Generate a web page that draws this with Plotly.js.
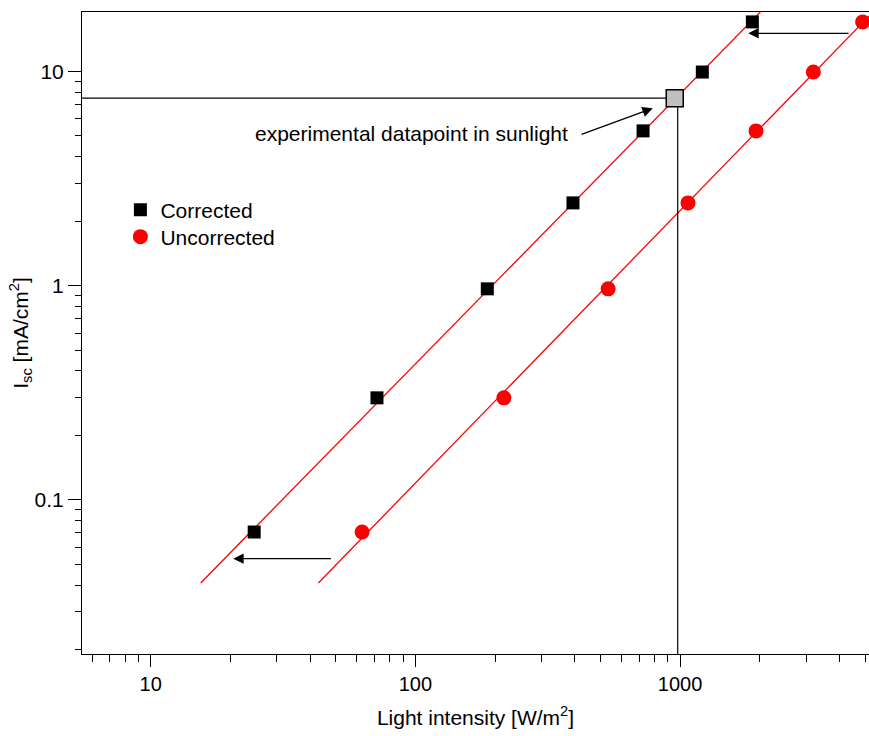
<!DOCTYPE html>
<html>
<head>
<meta charset="utf-8">
<script src="https://cdn.plot.ly/plotly-3.0.1.min.js"></script>
<style>html,body{margin:0;padding:0;background:#fff;}#chart{width:869px;height:736px;}</style>
</head>
<body>
<div id="chart"></div>
<script>
// ---- data ----
const xCorrected   = [24.6, 71.6, 187, 394, 725, 1214, 1876];      // W/m2 (corrected)
const xUncorrected = [62.9, 216, 535, 1072, 1937, 3189, 4898];     // W/m2 (uncorrected)
const iscValues    = [0.0707, 0.299, 0.965, 2.43, 5.27, 9.92, 17.0]; // mA/cm2

const fitCorrectedX   = [15.45, 2011];
const fitCorrectedY   = [0.0409, 18.9];
const fitUncorrectedX = [43.0, 5176];
const fitUncorrectedY = [0.0409, 18.1];

const sunX = 955, sunY = 7.48;      // experimental datapoint in sunlight
const guideX = 980, guideY = 7.5;   // guide lines
const axisXMin = 5.5, axisYMin = 0.019;

const arrowTop    = {fromX: 4390, toX: 1811, y: 15.04};
const arrowBottom = {fromX: 48.6, toX: 20.5, y: 0.0531};
const arrowSun    = {fromX: 419, fromY: 5.04, toX: 789, toY: 6.72};
const labelSun    = {x: 384, y: 5.15, text: 'experimental datapoint in sunlight'};

const xMajor = [10, 100, 1000], xMajorText = ['10', '100', '1000'];
const yMajor = [0.1, 1, 10],    yMajorText = ['0.1', '1', '10'];

function minorTicks(decades, lo, hi) {
  const out = [];
  decades.forEach(d => { for (let k = 2; k <= 9; k++) { const v = k * d; if (v >= lo && v <= hi) out.push(v); } });
  return out;
}
const xMinor = minorTicks([1, 10, 100, 1000], 5.5, 5200);
const yMinor = minorTicks([0.01, 0.1, 1, 10], 0.019, 19);

const L = Math.log10;
const FONT = 'Liberation Sans, Arial, Helvetica, sans-serif';
const RED = '#ff0000';

const traces = [
  {x: fitCorrectedX, y: fitCorrectedY, mode: 'lines', line: {color: RED, width: 1.3}, showlegend: false, hoverinfo: 'skip'},
  {x: fitUncorrectedX, y: fitUncorrectedY, mode: 'lines', line: {color: RED, width: 1.3}, showlegend: false, hoverinfo: 'skip'},
  {x: [axisXMin, guideX], y: [guideY, guideY], mode: 'lines', line: {color: 'black', width: 1.2}, showlegend: false},
  {x: [guideX, guideX], y: [axisYMin, guideY], mode: 'lines', line: {color: 'black', width: 1.2}, showlegend: false},
  {x: xCorrected, y: iscValues, mode: 'markers', name: 'Corrected', legend: 'legend',
   marker: {symbol: 'square', size: 13, color: 'black'}},
  {x: xUncorrected, y: iscValues, mode: 'markers', name: 'Uncorrected', legend: 'legend2',
   marker: {symbol: 'circle', size: 15, color: RED}},
  {x: [sunX], y: [sunY], mode: 'markers', showlegend: false,
   marker: {symbol: 'square', size: 17, color: '#c0c0c0', line: {color: 'black', width: 1.5}}}
];

function arrow(fx, fy, tx, ty) {
  return {x: L(tx), y: L(ty), ax: L(fx), ay: L(fy), xref: 'x', yref: 'y', axref: 'x', ayref: 'y',
          showarrow: true, arrowhead: 2, arrowsize: 1.6, arrowwidth: 1.3, arrowcolor: 'black', text: ''};
}

const legendBase = {xanchor: 'left', yanchor: 'middle', bgcolor: 'rgba(0,0,0,0)',
                    font: {family: FONT, size: 21, color: 'black'}};

const layout = {
  width: 869, height: 736,
  margin: {l: 82, r: 0, t: 12, b: 82},
  paper_bgcolor: 'white', plot_bgcolor: 'white',
  font: {family: FONT, size: 20, color: 'black'},
  showlegend: true,
  legend:  Object.assign({x: 0.0488, y: 0.6916}, legendBase),
  legend2: Object.assign({x: 0.0488, y: 0.6495}, legendBase),
  xaxis: {
    type: 'log', range: [L(5.5), 3.714],
    showgrid: false, zeroline: false,
    showline: true, linecolor: 'black', linewidth: 1, mirror: true,
    ticks: 'outside', ticklen: 12, tickwidth: 1, tickcolor: 'black',
    tickmode: 'array', tickvals: xMajor, ticktext: xMajorText,
    tickfont: {family: FONT, size: 20},
    minor: {tickmode: 'array', tickvals: xMinor, ticks: 'outside', ticklen: 7, tickwidth: 1, tickcolor: 'black', showgrid: false},
    title: {text: 'Light intensity [W/m<sup>2</sup>]', font: {family: FONT, size: 21}, standoff: 16}
  },
  yaxis: {
    type: 'log', range: [-1.72, 1.2767],
    showgrid: false, zeroline: false,
    showline: true, linecolor: 'black', linewidth: 1,
    ticks: 'outside', ticklen: 13, tickwidth: 1, tickcolor: 'black',
    tickmode: 'array', tickvals: yMajor, ticktext: yMajorText,
    tickfont: {family: FONT, size: 21},
    minor: {tickmode: 'array', tickvals: yMinor, ticks: 'outside', ticklen: 6, tickwidth: 1, tickcolor: 'black', showgrid: false},
    title: {text: 'I<sub>sc</sub> [mA/cm<sup>2</sup>]', font: {family: FONT, size: 21}, standoff: 0}
  },
  annotations: [
    arrow(arrowTop.fromX, arrowTop.y, arrowTop.toX, arrowTop.y),
    arrow(arrowBottom.fromX, arrowBottom.y, arrowBottom.toX, arrowBottom.y),
    arrow(arrowSun.fromX, arrowSun.fromY, arrowSun.toX, arrowSun.toY),
    {x: L(labelSun.x), y: L(labelSun.y), xref: 'x', yref: 'y', text: labelSun.text, showarrow: false,
     xanchor: 'right', yanchor: 'middle', font: {family: FONT, size: 21, color: 'black'}}
  ]
};

Plotly.newPlot('chart', traces, layout, {displayModeBar: false, staticPlot: true});
</script>
</body>
</html>
